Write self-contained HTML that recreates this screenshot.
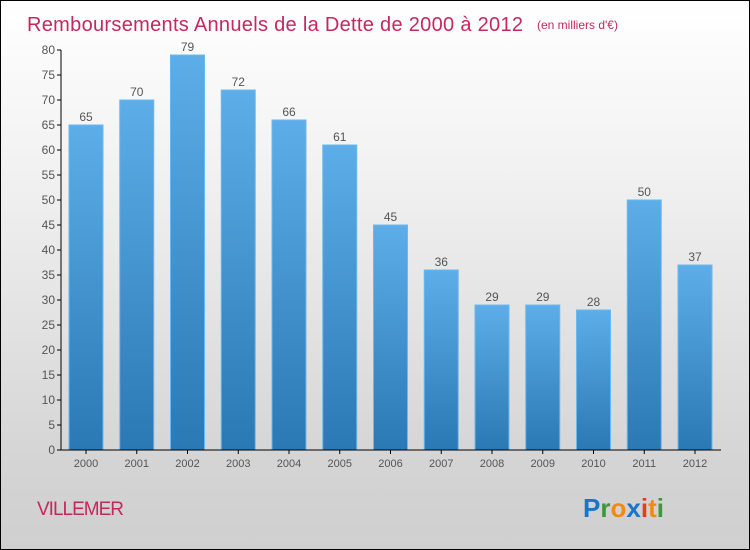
<!DOCTYPE html>
<html><head><meta charset="utf-8"><style>
body{margin:0;}
#c{position:relative;width:748px;height:548px;border:1px solid #000;background:linear-gradient(#ffffff,#f2f2f2 30%,#d4d4d4 85%,#cfcfcf);overflow:hidden;font-family:"Liberation Sans",sans-serif;}
</style></head><body>
<div id="c">
<svg id="s" width="748" height="548"></svg>
</div>
<script>
const categories=["2000","2001","2002","2003","2004","2005","2006","2007","2008","2009","2010","2011","2012"];
const values=[65,70,79,72,66,61,45,36,29,29,28,50,37];
const yTicks=[0,5,10,15,20,25,30,35,40,45,50,55,60,65,70,75,80];
const NS="http://www.w3.org/2000/svg";
const s=document.getElementById('s');
const y=v=>449-v*5;
const x=i=>85+i*50.75;
function el(t,a,txt){const e=document.createElementNS(NS,t);for(const k in a)e.setAttribute(k,a[k]);if(txt!==undefined)e.textContent=txt;s.appendChild(e);return e;}
const defs=el('defs',{});
defs.innerHTML='<linearGradient id="g" x1="0" y1="0" x2="0" y2="1"><stop offset="0" stop-color="#5daee8"/><stop offset="1" stop-color="#2a78b4"/></linearGradient>';
let t=el('text',{x:26,y:30,'font-size':20,fill:'#c4285f',textLength:496});
t.textContent='Remboursements Annuels de la Dette de 2000 à 2012';

t=el('text',{x:536,y:28,'font-size':12,fill:'#c4285f'},'(en milliers d\'€)');

yTicks.forEach(v=>{
 const l=el('line',{x1:56,x2:60,y1:y(v),y2:y(v),stroke:'#000'});
 
 const tx=el('text',{x:54,y:y(v)+4,'font-size':12,fill:'#555','text-anchor':'end'},v);
 
});
values.forEach((v,i)=>{
 const r=el('rect',{x:x(i)-17,y:y(v),width:34,height:v*5,fill:'url(#g)',stroke:'#6bb8ee','stroke-width':1});
 
 const lb=el('text',{x:x(i),y:y(v)-4,'font-size':12,fill:'#555','text-anchor':'middle'},v);
 
 const tk=el('line',{x1:x(i),x2:x(i),y1:449,y2:453,stroke:'#000'});
 
 const cl=el('text',{x:x(i),y:466,'font-size':11,fill:'#555','text-anchor':'middle'},categories[i]);
 
});
let a=el('line',{x1:60,x2:60,y1:49,y2:449,stroke:'#000'});

a=el('line',{x1:60,x2:720,y1:449,y2:449,stroke:'#000'});

t=el('text',{x:36,y:514,'font-size':19,fill:'#c4285f','letter-spacing':'-1'},'VILLEMER');

const logo=el('text',{x:582,y:516,'font-size':26,'font-weight':'bold'});

logo.innerHTML='<tspan fill="#1a74c8">P</tspan><tspan fill="#3a9a3a">r</tspan><tspan fill="#f08a10">o</tspan><tspan fill="#1a74c8">x</tspan><tspan fill="#e04020">i</tspan><tspan fill="#f08a10">t</tspan><tspan fill="#3a9a3a">i</tspan>';
</script>
</body></html>
